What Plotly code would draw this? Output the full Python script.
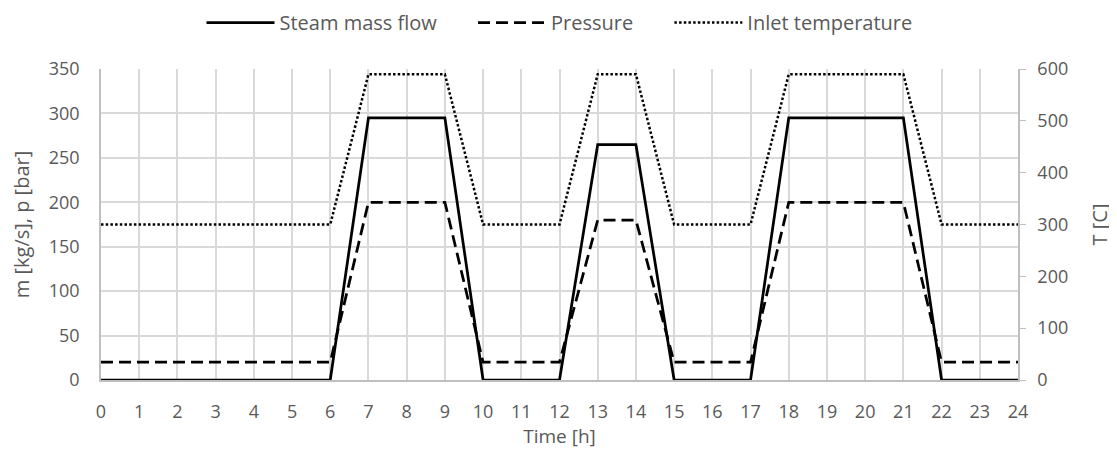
import plotly.graph_objects as go

hours = list(range(0, 25))
steam_mass_flow = [0, 0, 0, 0, 0, 0, 0, 295, 295, 295, 0, 0, 0, 265, 265, 0, 0, 0, 295, 295, 295, 295, 0, 0, 0]
pressure = [20, 20, 20, 20, 20, 20, 20, 200, 200, 200, 20, 20, 20, 180, 180, 20, 20, 20, 200, 200, 200, 200, 20, 20, 20]
inlet_temperature = [300, 300, 300, 300, 300, 300, 300, 590, 590, 590, 300, 300, 300, 590, 590, 300, 300, 300, 590, 590, 590, 590, 300, 300, 300]
series_names = ["Steam mass flow", "Pressure", "Inlet temperature"]

font_family = "Open Sans, Noto Sans, sans-serif"
txt = "#595959"
grid = "#d9d9d9"
pad = "\u00a0" * 6

fig = go.Figure()
fig.add_trace(go.Scatter(x=hours, y=steam_mass_flow, mode="lines", name=series_names[0] + pad,
                         line=dict(color="black", width=2.75, dash="solid")))
fig.add_trace(go.Scatter(x=hours, y=pressure, mode="lines", name=series_names[1] + pad,
                         line=dict(color="black", width=2.75, dash="12px,6px")))
fig.add_trace(go.Scatter(x=hours, y=inlet_temperature, mode="lines", name=series_names[2],
                         line=dict(color="black", width=2.5, dash="2.5px,2.2px"), yaxis="y2"))

fig.update_layout(
    width=1109, height=453,
    margin=dict(l=93, r=99, t=61, b=81, autoexpand=False),
    paper_bgcolor="white", plot_bgcolor="white",
    font=dict(family=font_family, size=18, color=txt),
    showlegend=True,
    legend=dict(orientation="h", x=0.50, xanchor="center", y=1.212, yanchor="top",
                yref="paper", font=dict(size=20, color=txt), itemwidth=68,
                bgcolor="rgba(0,0,0,0)", tracegroupgap=0),
    xaxis=dict(range=[0, 24], tickmode="linear", tick0=0, dtick=1,
               showgrid=True, gridcolor=grid, gridwidth=1.5,
               showline=True, linecolor="#bfbfbf", linewidth=1.5,
               zeroline=False, ticks="", ticklabelstandoff=15,
               tickfont=dict(size=18, color=txt),
               title=dict(text="Time [h]", font=dict(size=19, color=txt), standoff=4)),
    yaxis=dict(range=[0, 350], tickmode="linear", tick0=0, dtick=50,
               showgrid=True, gridcolor=grid, gridwidth=1.5,
               showline=True, linecolor="#bfbfbf", linewidth=1.5,
               zeroline=False, ticks="", ticklabelstandoff=16,
               tickfont=dict(size=18, color=txt),
               title=dict(text="m [kg/s], p [bar]", font=dict(size=20, color=txt), standoff=14)),
    yaxis2=dict(range=[0, 600], tickmode="linear", tick0=0, dtick=100,
                overlaying="y", side="right", showgrid=False,
                showline=True, linecolor="#bfbfbf", linewidth=1.5,
                zeroline=False, ticks="outside", ticklen=6, tickcolor="#bfbfbf",
                ticklabelstandoff=8, tickfont=dict(size=18, color=txt),
                title=dict(text="T [C]", font=dict(size=20, color=txt), standoff=26)),
)

fig.write_html("out.html")
